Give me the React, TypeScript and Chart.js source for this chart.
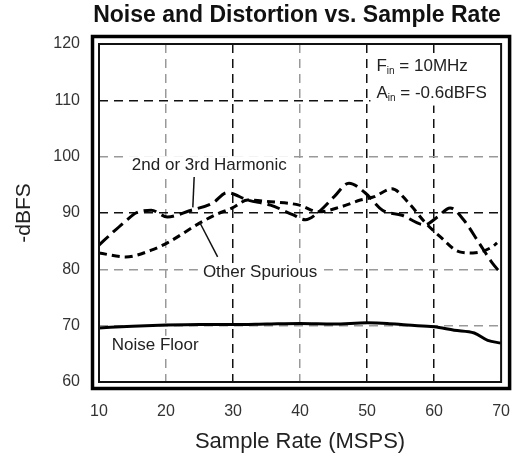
import React, { useEffect, useRef } from "react";
import { Chart, registerables } from "chart.js";

Chart.register(...registerables);

const TITLE = "Noise and Distortion vs. Sample Rate";
const X_TITLE = "Sample Rate (MSPS)";
const Y_TITLE = "-dBFS";

const X_MIN = 10;
const X_MAX = 70;
const Y_MIN = 60;
const Y_MAX = 120;
const DARK_X_GRID = [30, 50, 60];
const DARK_Y_GRID = [90, 110];

// 2nd or 3rd Harmonic (long dashes)
const harmonicX = [10, 12, 14, 15.5, 17.8, 20.2, 23.5, 27, 29.1, 32.2, 35.6, 38.9, 40.8, 42.8, 45.1, 47.3, 49.7, 52.3, 55.2, 58.6, 60.5, 62.4, 64.4, 66.7, 68.7, 69.9];
const harmonicY = [84.3, 86.5, 88.6, 90, 90.5, 89.3, 90.4, 91.8, 93.6, 92.3, 91.4, 89.7, 88.8, 90.2, 92.9, 95.3, 93.6, 90.5, 89.6, 87.9, 89.3, 90.9, 88.8, 84.7, 81.1, 79.4];

// Other Spurious (short dashes)
const spurX = [10, 14, 17.8, 20.2, 25, 27.4, 29.9, 32.2, 35.6, 39.9, 42.8, 46.1, 49, 51.1, 53.7, 56.2, 58.6, 60.9, 63.8, 65.8, 68.7, 69.4];
const spurY = [82.9, 82.2, 83.4, 84.7, 88.2, 89.7, 90.9, 92.3, 92, 91.4, 90.2, 91.1, 92.3, 92.9, 94.3, 91.8, 88.4, 85.8, 83.1, 82.9, 84, 84.7];

// Noise Floor (solid)
const noiseX = [10, 15, 20, 25, 30, 35, 40, 45, 50, 53, 56, 60, 63, 66, 68, 70];
const noiseY = [69.6, 69.9, 70.1, 70.2, 70.2, 70.3, 70.4, 70.3, 70.5, 70.4, 70.1, 69.8, 69.2, 68.7, 67.4, 66.9];

// Annotation texts (anchored in data units: left edge x, vertical centre y)
const LABEL_HARMONIC = { text: "2nd or 3rd Harmonic", x: 14.9, y: 98.5 };
const LABEL_SPUR = { text: "Other Spurious", x: 25.5, y: 79.5 };
const LABEL_NOISE = { text: "Noise Floor", x: 11.9, y: 66.6 };
const LEADER_HARMONIC = [{ x: 24.2, y: 96.4 }, { x: 24.0, y: 91.0 }];
const LEADER_SPUR = [{ x: 25.0, y: 88.4 }, { x: 27.7, y: 82.2 }];
const COND_X = 51.4;
const COND_F = { main: "F", sub: "in", rest: " = 10MHz", y: 116.1 };
const COND_A = { main: "A", sub: "in", rest: " = -0.6dBFS", y: 111.2 };

const FONT = "'Liberation Sans', Arial, Helvetica, sans-serif";

const toXY = (xs: number[], ys: number[]) => xs.map((x, i) => ({ x, y: ys[i] }));

const decorPlugin = {
  id: "decor",
  afterDatasetsDraw(chart: any) {
    const { ctx, scales } = chart;
    const sx = scales.x;
    const sy = scales.y;
    ctx.save();
    // leader lines
    ctx.strokeStyle = "#111";
    ctx.lineWidth = 1.5;
    ctx.setLineDash([]);
    for (const seg of [LEADER_HARMONIC, LEADER_SPUR]) {
      ctx.beginPath();
      ctx.moveTo(sx.getPixelForValue(seg[0].x), sy.getPixelForValue(seg[0].y));
      ctx.lineTo(sx.getPixelForValue(seg[1].x), sy.getPixelForValue(seg[1].y));
      ctx.stroke();
    }
    // text labels with white backgrounds
    ctx.font = `17px ${FONT}`;
    ctx.textBaseline = "middle";
    ctx.textAlign = "left";
    for (const l of [LABEL_HARMONIC, LABEL_SPUR, LABEL_NOISE]) {
      const px = sx.getPixelForValue(l.x);
      const py = sy.getPixelForValue(l.y);
      const w = ctx.measureText(l.text).width;
      ctx.fillStyle = "#fff";
      ctx.fillRect(px - 5, py - 9, w + 10, 18);
      ctx.fillStyle = "#222";
      ctx.fillText(l.text, px, py);
    }
    // conditions box
    const cx = sx.getPixelForValue(COND_X);
    const fy = sy.getPixelForValue(COND_F.y);
    const ay = sy.getPixelForValue(COND_A.y);
    ctx.fillStyle = "#fff";
    ctx.fillRect(cx - 6, fy - 12, 132, ay - fy + 24);
    for (const c of [COND_F, COND_A]) {
      const py = sy.getPixelForValue(c.y);
      let x = cx;
      ctx.fillStyle = "#222";
      ctx.font = `17px ${FONT}`;
      ctx.fillText(c.main, x, py);
      x += ctx.measureText(c.main).width;
      ctx.font = `10px ${FONT}`;
      ctx.fillText(c.sub, x, py + 5);
      x += ctx.measureText(c.sub).width;
      ctx.font = `17px ${FONT}`;
      ctx.fillText(c.rest, x, py);
    }
    ctx.restore();
  },
  afterDraw(chart: any) {
    const { ctx, chartArea: a } = chart;
    ctx.save();
    ctx.setLineDash([]);
    ctx.strokeStyle = "#111";
    ctx.lineWidth = 2;
    ctx.strokeRect(a.left, a.top, a.right - a.left, a.bottom - a.top);
    ctx.lineWidth = 3.5;
    ctx.strokeStyle = "#000";
    ctx.strokeRect(a.left - 6.5, a.top - 7.5, a.right - a.left + 15, a.bottom - a.top + 14);
    // title
    ctx.fillStyle = "#111";
    ctx.font = `bold 23px ${FONT}`;
    ctx.textAlign = "center";
    ctx.textBaseline = "middle";
    ctx.fillText(TITLE, 297, 16);
    ctx.restore();
  },
};

export default function App() {
  const ref = useRef<HTMLCanvasElement>(null);
  useEffect(() => {
    if (!ref.current) return;
    const chart = new Chart(ref.current, {
      type: "line",
      data: {
        datasets: [
          {
            label: "2nd or 3rd Harmonic",
            data: toXY(harmonicX, harmonicY),
            borderColor: "#000",
            borderWidth: 3,
            borderDash: [13, 6],
            pointRadius: 0,
            cubicInterpolationMode: "monotone",
            fill: false,
          },
          {
            label: "Other Spurious",
            data: toXY(spurX, spurY),
            borderColor: "#000",
            borderWidth: 3,
            borderDash: [8, 5],
            pointRadius: 0,
            cubicInterpolationMode: "monotone",
            fill: false,
          },
          {
            label: "Noise Floor",
            data: toXY(noiseX, noiseY),
            borderColor: "#000",
            borderWidth: 3,
            pointRadius: 0,
            cubicInterpolationMode: "monotone",
            fill: false,
          },
        ],
      },
      options: {
        animation: false,
        responsive: false,
        devicePixelRatio: 1,
        layout: { padding: { top: 44, right: 14, left: 0, bottom: 0 } },
        plugins: {
          legend: { display: false },
          title: { display: false },
          tooltip: { enabled: false },
        },
        scales: {
          x: {
            type: "linear",
            min: X_MIN,
            max: X_MAX,
            afterFit: (s: any) => {
              s.height = 73;
            },
            ticks: {
              stepSize: 10,
              padding: 20,
              color: "#333",
              font: { family: FONT, size: 16 },
              maxRotation: 0,
            },
            grid: {
              drawTicks: false,
              lineWidth: 1.5,
              color: (c: any) => {
                const v = c.tick?.value;
                if (v === X_MIN || v === X_MAX) return "rgba(0,0,0,0)";
                return DARK_X_GRID.includes(v) ? "#111" : "#999";
              },
            },
            border: { display: false, dash: [9, 6] },
            title: {
              display: true,
              text: X_TITLE,
              color: "#222",
              font: { family: FONT, size: 22, lineHeight: 1 },
              padding: { top: 0, bottom: 2 },
            },
          },
          y: {
            min: Y_MIN,
            max: Y_MAX,
            afterFit: (s: any) => {
              s.width = 99;
            },
            ticks: {
              stepSize: 10,
              padding: 19,
              color: "#333",
              font: { family: FONT, size: 16 },
            },
            grid: {
              drawTicks: false,
              lineWidth: 1.5,
              color: (c: any) => {
                const v = c.tick?.value;
                if (v === Y_MIN || v === Y_MAX) return "rgba(0,0,0,0)";
                return DARK_Y_GRID.includes(v) ? "#111" : "#999";
              },
            },
            border: { display: false, dash: [9, 6] },
            title: {
              display: true,
              text: Y_TITLE,
              color: "#222",
              font: { family: FONT, size: 21, lineHeight: 1 },
              padding: { top: 14, bottom: 0 },
            },
          },
        },
      },
      plugins: [decorPlugin],
    });
    return () => chart.destroy();
  }, []);
  return (
    <div style={{ position: "fixed", left: 0, top: 0, width: 530, height: 455, background: "#fff" }}>
      <canvas ref={ref} width={530} height={455} />
    </div>
  );
}
